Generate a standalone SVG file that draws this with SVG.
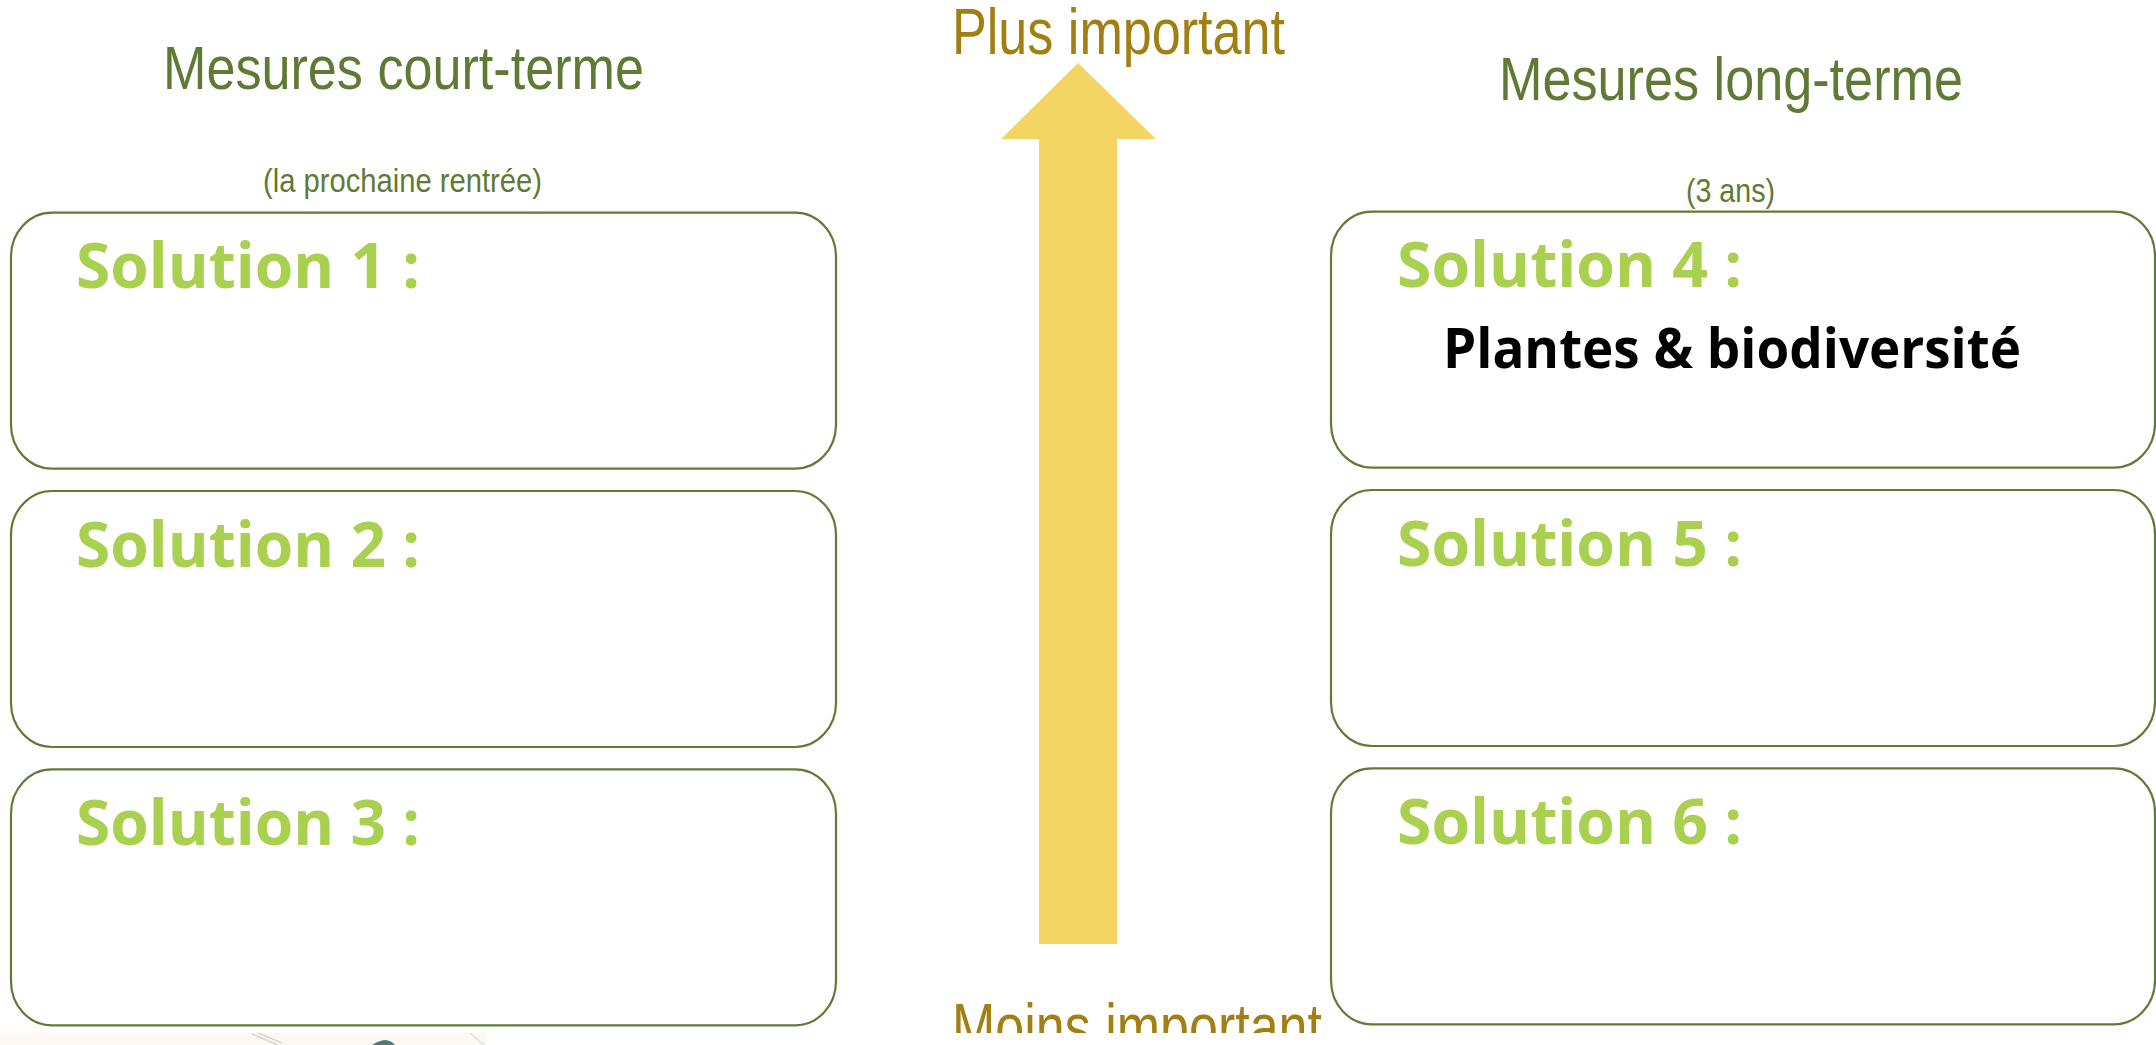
<svg xmlns="http://www.w3.org/2000/svg" width="2156" height="1045" viewBox="0 0 2156 1045">
  <defs>
    <style>
      .box { fill: #ffffff; stroke: #617A36; stroke-width: 2.2; }
      .title { font-family: "Liberation Sans", Arial, sans-serif; fill: #5F7A35; }
      .gold { font-family: "Liberation Sans", Arial, sans-serif; fill: #A27F12; font-size: 64px; }
      .sol { font-family: "Open Sans", "Noto Sans", sans-serif; font-weight: bold; fill: #A9D04F; font-size: 63px; }
      .body { font-family: "Open Sans", "Noto Sans", sans-serif; font-weight: bold; fill: #000000; font-size: 56px; }
    </style>
    <clipPath id="clipTop">
      <rect x="0" y="0" width="2156" height="1033"/>
    </clipPath>
  </defs>
  <rect x="0" y="0" width="2156" height="1045" fill="#ffffff"/>

  <g id="headings">
    <text class="title" x="163" y="89" font-size="61" textLength="481" lengthAdjust="spacingAndGlyphs">Mesures court-terme</text>
    <text class="title" x="263" y="192" font-size="33" textLength="279" lengthAdjust="spacingAndGlyphs">(la prochaine rentrée)</text>
    <text class="title" x="1499" y="100" font-size="62" textLength="464" lengthAdjust="spacingAndGlyphs">Mesures long-terme</text>
    <text class="title" x="1686" y="202" font-size="33" textLength="89" lengthAdjust="spacingAndGlyphs">(3 ans)</text>
  </g>

  <g id="solution-1">
    <rect class="box" x="11" y="212.7" width="825" height="256" rx="41" ry="44"/>
    <text class="sol" x="76" y="288" textLength="344" lengthAdjust="spacingAndGlyphs">Solution 1 :</text>
  </g>
  <g id="solution-2">
    <rect class="box" x="11" y="491" width="825" height="256" rx="41" ry="44"/>
    <text class="sol" x="76" y="566.5" textLength="344" lengthAdjust="spacingAndGlyphs">Solution 2 :</text>
  </g>
  <g id="solution-3">
    <rect class="box" x="11" y="769.4" width="825" height="256" rx="41" ry="44"/>
    <text class="sol" x="76" y="845" textLength="344" lengthAdjust="spacingAndGlyphs">Solution 3 :</text>
  </g>

  <g id="solution-4">
    <rect class="box" x="1331" y="211.7" width="824" height="256" rx="41" ry="44"/>
    <text class="sol" x="1397" y="287" textLength="345" lengthAdjust="spacingAndGlyphs">Solution 4 :</text>
    <text class="body" x="1443" y="368" textLength="578" lengthAdjust="spacingAndGlyphs">Plantes &amp; biodiversité</text>
  </g>
  <g id="solution-5">
    <rect class="box" x="1331" y="490" width="824" height="256" rx="41" ry="44"/>
    <text class="sol" x="1397" y="565.5" textLength="345" lengthAdjust="spacingAndGlyphs">Solution 5 :</text>
  </g>
  <g id="solution-6">
    <rect class="box" x="1331" y="768.4" width="824" height="256" rx="41" ry="44"/>
    <text class="sol" x="1397" y="844" textLength="345" lengthAdjust="spacingAndGlyphs">Solution 6 :</text>
  </g>

  <g id="connectors">
    <polygon points="1078,63 1156,139 1117,139 1117,944 1039,944 1039,139 1001,139" fill="#F2D562"/>
  </g>

  <g id="priority-labels">
    <text class="gold" x="952" y="54" textLength="333" lengthAdjust="spacingAndGlyphs">Plus important</text>
    <text class="gold" x="952" y="1049" textLength="370" lengthAdjust="spacingAndGlyphs" clip-path="url(#clipTop)">Moins important</text>
  </g>

  <g id="bottom-strip">
    <rect x="0" y="1033" width="486" height="12" fill="#FDF8F1"/>
    <path d="M252,1034 L278,1045 M258,1033 L282,1043" stroke="#D9D6D0" stroke-width="1.5" fill="none"/>
    <path d="M372,1045 Q380,1040 386,1040 Q392,1041 395,1045 Z" fill="#4F7A72"/>
    <path d="M470,1033 L484,1045" stroke="#E2E0DC" stroke-width="1.5" fill="none"/>
  </g>
</svg>
